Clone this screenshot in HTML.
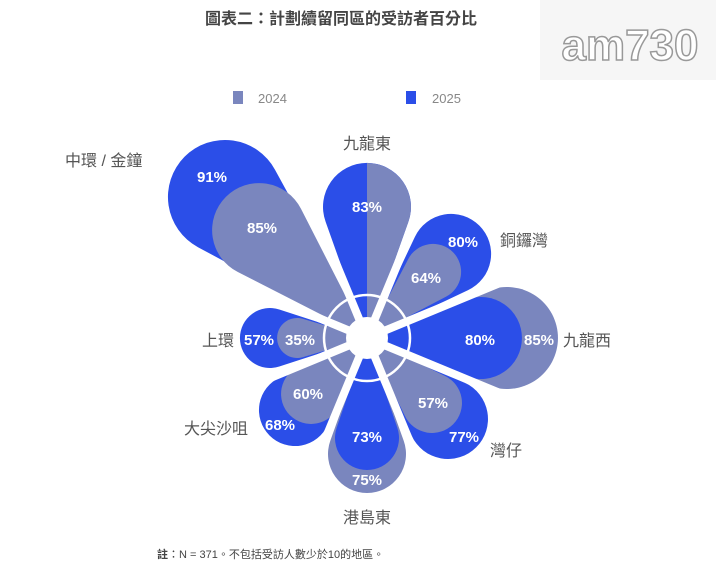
<!DOCTYPE html><html><head><meta charset="utf-8"><style>
body{margin:0;width:716px;height:583px;background:#fff;overflow:hidden;font-family:"Liberation Sans","Noto Sans CJK TC",sans-serif}
</style></head><body>
<svg width="716" height="583" xmlns="http://www.w3.org/2000/svg" font-family="Liberation Sans, Noto Sans CJK TC, sans-serif">
<rect x="540" y="0" width="176" height="80" fill="#f6f6f6"/>
<text x="630" y="60" text-anchor="middle" font-size="44" font-weight="bold" fill="#fff" stroke="#999" stroke-width="1.5">am730</text>
<text x="341" y="24" text-anchor="middle" font-size="16" font-weight="bold" fill="#444">圖表二：計劃續留同區的受訪者百分比</text>
<rect x="233" y="91" width="10" height="13" fill="#7A86BE"/><text x="258" y="103" font-size="13" fill="#888">2024</text>
<rect x="406" y="91" width="10" height="13" fill="#2B4EE8"/><text x="432" y="103" font-size="13" fill="#888">2025</text>
<g>
<path d="M367 338 L198 247.2 A57 57 0 1 1 275 169.7 Z" fill="#2B4EE8"/>
<path d="M367 338 L237.6 271.9 A47 47 0 1 1 300.9 208.6 Z" fill="#7A86BE"/>
<path d="M367 338 L325.6 221.8 A44 44 0 1 1 408.4 221.8 Z" fill="#2B4EE8"/>
<path d="M367 338 L367 163 A44 44 0 0 1 408.4 221.8 Z" fill="#7A86BE"/>
<path d="M367 338 L414.9 236.9 A40 40 0 1 1 468.1 290.1 Z" fill="#2B4EE8"/>
<path d="M367 338 L408.2 259.1 A28 28 0 1 1 445.9 296.8 Z" fill="#7A86BE"/>
<path d="M367 338 L488.4 290.5 A51 51 0 1 1 488.4 385.5 Z" fill="#7A86BE"/>
<path d="M367 338 L466.3 299.7 A41 41 0 1 1 466.3 376.3 Z" fill="#2B4EE8"/>
<path d="M367 338 L464.6 382.6 A40 40 0 1 1 411.6 435.6 Z" fill="#2B4EE8"/>
<path d="M367 338 L445.1 376 A30 30 0 1 1 405 416.1 Z" fill="#7A86BE"/>
<path d="M367 338 L403.7 440.8 A39 39 0 1 1 330.3 440.8 Z" fill="#7A86BE"/>
<path d="M367 338 L397.3 427.7 A32 32 0 1 1 336.7 427.7 Z" fill="#2B4EE8"/>
<path d="M367 338 L327.8 424.8 A36 36 0 1 1 280.2 377.2 Z" fill="#2B4EE8"/>
<path d="M367 338 L338.7 405.6 A30 30 0 1 1 299.4 366.3 Z" fill="#7A86BE"/>
<path d="M367 338 L279.3 366.5 A30 30 0 1 1 279.3 309.5 Z" fill="#2B4EE8"/>
<path d="M367 338 L302.7 357.2 A20 20 0 1 1 302.7 318.8 Z" fill="#7A86BE"/>
</g>
<g stroke="#fff" stroke-width="8">
<line x1="164" y1="254" x2="570" y2="422"/>
<line x1="283" y1="135" x2="451" y2="541"/>
<line x1="451" y1="135" x2="283" y2="541"/>
<line x1="570" y1="254" x2="164" y2="422"/>
</g>
<circle cx="367" cy="338" r="21" fill="#fff"/>
<circle cx="367" cy="338" r="43" fill="none" stroke="#fff" stroke-width="2.5"/>
<g font-size="15" font-weight="bold" fill="#fff" text-anchor="middle">
<text x="212" y="182">91%</text><text x="262" y="233">85%</text><text x="367" y="212">83%</text>
<text x="463" y="247">80%</text><text x="426" y="283">64%</text><text x="480" y="345">80%</text>
<text x="539" y="345">85%</text><text x="433" y="408">57%</text><text x="464" y="442">77%</text>
<text x="367" y="442">73%</text><text x="367" y="485">75%</text><text x="308" y="399">60%</text>
<text x="280" y="430">68%</text><text x="259" y="345">57%</text><text x="300" y="345">35%</text>
</g>
<g font-size="16" fill="#555">
<text x="65" y="166">中環 / 金鐘</text>
<text x="367" y="149" text-anchor="middle">九龍東</text>
<text x="500" y="246">銅鑼灣</text>
<text x="563" y="346">九龍西</text>
<text x="490" y="456">灣仔</text>
<text x="367" y="523" text-anchor="middle">港島東</text>
<text x="248" y="434" text-anchor="end">大尖沙咀</text>
<text x="234" y="346" text-anchor="end">上環</text>
</g>
<text x="157" y="558" font-size="11" fill="#444"><tspan font-weight="bold">註</tspan>：N = 371。不包括受訪人數少於10的地區。</text>
</svg>
</body></html>
